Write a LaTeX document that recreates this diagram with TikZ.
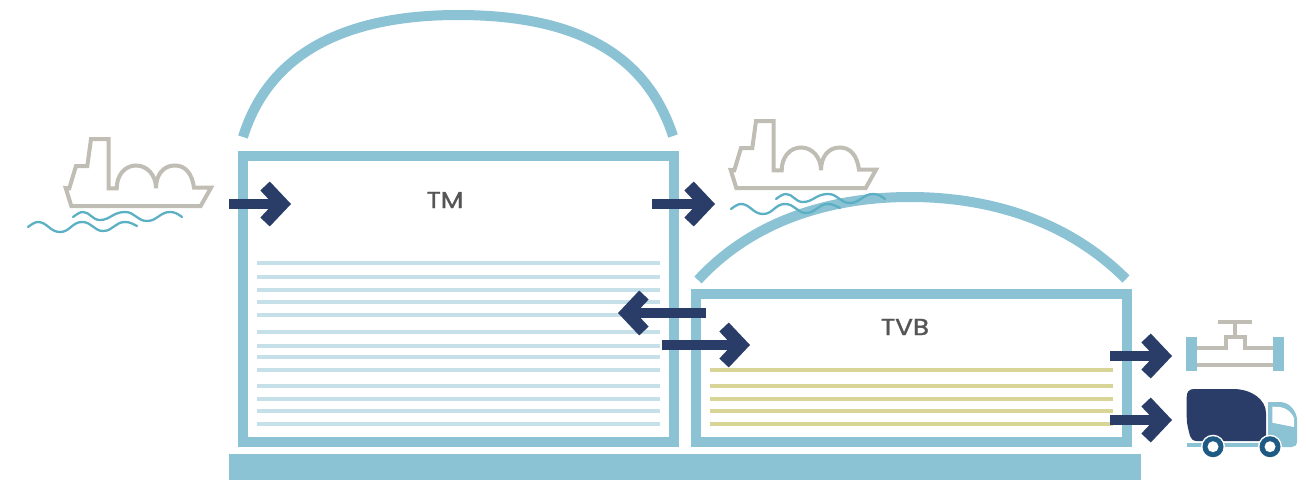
\documentclass[tikz,border=0pt]{standalone}
\usepackage{xcolor}
\usepackage{fontspec}
\usepackage{tikz}
\usetikzlibrary{arrows.meta,positioning,calc}
\newfontfamily\lblfont[FakeBold=1.6,FakeStretch=1.14]{Poppins}
\definecolor{tankblue}{HTML}{8BC2D4}
\definecolor{layerblue}{HTML}{C5E0E8}
\definecolor{layergold}{HTML}{D8D597}
\definecolor{navy}{HTML}{2A3D68}
\definecolor{wheelblue}{HTML}{1F5A85}
\definecolor{shipgrey}{HTML}{C0BDB5}
\definecolor{waveblue}{HTML}{5CB0C4}
\definecolor{lblgrey}{HTML}{555555}
\begin{document}
\begin{tikzpicture}[
  x=1pt,y=-1pt,
  tank/.style={draw=tankblue,line width=10pt,miter limit=10},
  dome/.style={draw=tankblue,line width=10pt},
  lbl/.style={font=\lblfont\fontsize{23}{26}\selectfont,text=lblgrey},
  ar/.style={-{Straight Barb[length=17pt,width=36pt,line width=13pt]},draw=navy,line width=10pt},
  grey/.style={draw=shipgrey,line width=4pt},
  wave/.style={draw=waveblue,line width=2.3pt,line cap=round},
  ship/.pic={
    \draw[grey,line join=miter] (65.7,188) -- (71.3,206) -- (200.7,206) -- (211,187.7) -- (194,187.7)
      .. controls (192,173) and (185,165.5) .. (175,165.5) .. controls (163,165.5) and (156,175) .. (156,188.3)
      .. controls (156,175) and (147,165.5) .. (136,165.5) .. controls (125,165.5) and (116.7,175) .. (116.7,188.3)
      -- (108.7,188.3) -- (108.7,139) -- (91,139) -- (87.3,166) -- (76,166) -- (69.3,188.3) -- cycle;
  },
  waves/.pic={
    \draw[wave] (73,217) .. controls (77,214) and (80,212) .. (83,212) .. controls (90,212) and (92,220) .. (100,220)
      .. controls (110,220) and (113,212) .. (125,212) .. controls (135,212) and (137,221) .. (147,221)
      .. controls (157,221) and (160,212) .. (170,212) .. controls (175,212) and (178,214) .. (182,217);
    \draw[wave] (28,227) .. controls (32,224) and (35,222) .. (38,222) .. controls (47,222) and (50,232) .. (60,232)
      .. controls (70,232) and (72,222) .. (82,222) .. controls (92,222) and (94,231) .. (103,231)
      .. controls (113,231) and (115,222) .. (125,222) .. controls (130,222) and (133,224) .. (137,226);
  }
]
\useasboundingbox (0,0) rectangle (1306,480);
\fill[tankblue] (229,454) rectangle (1141,480);
\draw[tank] (243,156) rectangle (673.5,441.5);
\draw[tank] (696,294) rectangle (1127,441.5);
\draw[dome] (243,137) .. controls (270,50) and (350,15) .. (458,15) .. controls (570,15) and (645,50) .. (673,136);
\draw[dome] (698,280) .. controls (755,218) and (835,197) .. (910,197) .. controls (985,197) and (1065,218) .. (1126,279);

\foreach \y in {263,277,290,302,315,332,346,357,370,386,399,411,424}
  \draw[layerblue,line width=4pt] (257,\y) -- (660,\y);
\foreach \y in {370,385.7,398.7,410.7,423.7}
  \draw[layergold,line width=4pt] (710,\y) -- (1113,\y);

\node[lbl] (tm) at (445,200) {TM};
\node[lbl] (tvb) at (905,327) {TVB};

\pic at (0,0) {ship};
\pic at (0,0) {waves};
\pic at (665,-18) {ship};
\pic at (703,-18) {waves};

\draw[grey] (1197,347.7) -- (1226,347.7) -- (1226,337.3) -- (1245,337.3) -- (1245,347.7) -- (1273,347.7);
\draw[grey] (1197,365.3) -- (1273,365.3);
\draw[grey] (1235.3,337) -- (1235.3,322);
\draw[grey] (1218,322) -- (1252,322);
\fill[tankblue] (1186,337) rectangle (1197,371);
\fill[tankblue] (1273,337) rectangle (1284,371);

\fill[tankblue] (1186.7,442.7) rectangle (1270,447);
\fill[tankblue] (1268,402) -- (1280,402) .. controls (1290,402) and (1297,412) .. (1297,420) -- (1297,441)
  .. controls (1297,445) and (1295,447) .. (1292,447) -- (1268,447) -- cycle;
\fill[white] (1272.3,406.7) -- (1280,407) .. controls (1287,408) and (1292,413) .. (1294,418) -- (1294,427) -- (1272.3,422.7) -- cycle;
\fill[navy] (1186.7,397) .. controls (1186.7,392) and (1189,389) .. (1194,389) -- (1233,389)
  .. controls (1252,389) and (1266,400) .. (1266,413) -- (1266,435) .. controls (1266,439) and (1264,441) .. (1260,441)
  -- (1197,441) .. controls (1193,441) and (1191,439) .. (1190,436) .. controls (1188,428) and (1186.7,424) .. (1186.7,417) -- cycle;
\foreach \cx in {1213,1270}{
  \fill[white] (\cx,446.7) circle (12);
  \fill[wheelblue] (\cx,446.7) circle (10.5);
  \fill[white] (\cx,446.7) circle (5.5);
}

\coordinate (a1s) at (229,204);
\coordinate (a1e) at (291,204);
\coordinate (a2s) at (652,204);
\coordinate (a2e) at (715,204);
\coordinate (a3s) at (706,313);
\coordinate (a3e) at (618,313);
\coordinate (a4s) at (662,345);
\coordinate (a4e) at (750,345);
\coordinate (a5s) at (1110,356);
\coordinate (a5e) at (1172,356);
\coordinate (a6s) at (1110,420);
\coordinate (a6e) at (1172,420);
\draw[ar] (a1s) -- (a1e);
\draw[ar] (a2s) -- (a2e);
\draw[ar] (a3s) -- (a3e);
\draw[ar] (a4s) -- (a4e);
\draw[ar] (a5s) -- (a5e);
\draw[ar] (a6s) -- (a6e);
\end{tikzpicture}
\end{document}
